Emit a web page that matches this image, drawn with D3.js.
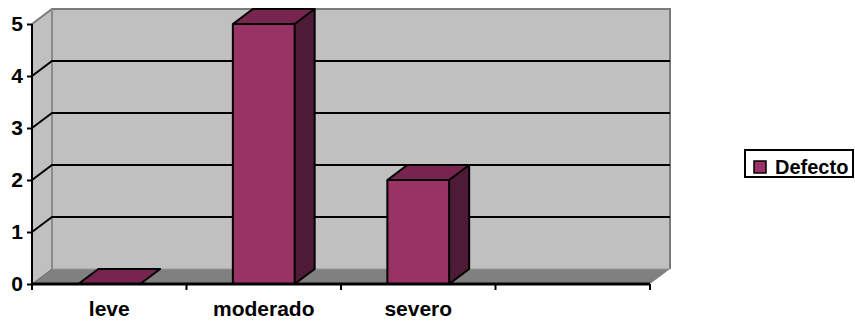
<!DOCTYPE html>
<html>
<head>
<meta charset="utf-8">
<script src="https://cdn.jsdelivr.net/npm/d3@7"></script>
<style>
  body { margin: 0; background: #fff; }
  text { font-family: "Liberation Sans", Arial, sans-serif; font-weight: bold; fill: #000; }
</style>
</head>
<body>
<div id="chart"></div>
<script>
// data
let categories = ["leve", "moderado", "severo", ""];
let values = [0, 5, 2, null];
let yTicks = [0, 1, 2, 3, 4, 5];
let seriesName = "Defecto";

let W = 855, H = 321;
// 3D depth offset
let dx = 20, dy = -15;

let x = d3.scaleBand()
    .domain(categories)
    .range([32, 650]);
let y = d3.scaleLinear()
    .domain([0, 5])
    .range([284, 24]);

let svg = d3.select("#chart").append("svg")
    .attr("width", W)
    .attr("height", H);

let pts = a => a.map(p => p.join(",")).join(" ");
let x0 = x.range()[0], x1 = x.range()[1];
let yb = y(0), yt = y(5);

// left wall
svg.append("polygon")
    .attr("points", pts([[x0, yb], [x0 + dx, yb + dy], [x0 + dx, yt + dy], [x0, yt]]))
    .attr("fill", "#c0c0c0");

// back wall
svg.append("rect")
    .attr("x", x0 + dx).attr("y", yt + dy)
    .attr("width", x1 - x0).attr("height", yb - yt)
    .attr("fill", "#c0c0c0");

// floor
svg.append("polygon")
    .attr("points", pts([[x0, yb], [x1, yb], [x1 + dx, yb + dy], [x0 + dx, yb + dy]]))
    .attr("fill", "#808080");

// wall edges
svg.append("path")
    .attr("d", "M" + x0 + "," + yt + "L" + (x0 + dx) + "," + (yt + dy) +
        "L" + (x1 + dx) + "," + (yt + dy) + "L" + (x1 + dx) + "," + (yb + dy))
    .attr("fill", "none").attr("stroke", "#7a7a7a").attr("stroke-width", 2);
svg.append("line")
    .attr("x1", x0 + dx).attr("x2", x0 + dx)
    .attr("y1", yt + dy).attr("y2", yb + dy)
    .attr("stroke", "#8a8a8a").attr("stroke-width", 2);
svg.append("line")
    .attr("x1", x0 + dx).attr("x2", x1 + dx)
    .attr("y1", yb + dy).attr("y2", yb + dy)
    .attr("stroke", "#999").attr("stroke-width", 1);
svg.append("line")
    .attr("x1", x0).attr("x2", x0 + dx)
    .attr("y1", yb).attr("y2", yb + dy)
    .attr("stroke", "#666").attr("stroke-width", 1);

// gridlines on back wall and left wall
let grid = yTicks.filter(v => v > 0 && v < 5);
svg.selectAll(".grid")
    .data(grid)
    .enter()
    .append("path")
    .attr("class", "grid")
    .attr("d", d => "M" + x0 + "," + y(d) + "L" + (x0 + dx) + "," + (y(d) + dy) +
        "L" + (x1 + dx) + "," + (y(d) + dy))
    .attr("fill", "none")
    .attr("stroke", "#000")
    .attr("stroke-width", 2);

// bars
let bw = x.bandwidth() * 0.4;
let bars = categories.map((c, i) => ({ c: c, v: values[i] })).filter(d => d.v !== null);
let g = svg.selectAll(".bar")
    .data(bars)
    .enter()
    .append("g")
    .attr("class", "bar");

g.each(function(d) {
    let gg = d3.select(this);
    let l = x(d.c) + (x.bandwidth() - bw) / 2, r = l + bw;
    let top = y(d.v), bot = y(0);
    if (d.v > 0) {
        gg.append("rect")
            .attr("x", l).attr("y", top)
            .attr("width", bw).attr("height", bot - top)
            .attr("fill", "#993366");
        gg.append("polygon")
            .attr("points", pts([[r, top], [r + dx, top + dy], [r + dx, bot + dy], [r, bot]]))
            .attr("fill", "#4f1a36");
    }
    gg.append("polygon")
        .attr("points", pts([[l, top], [l + dx, top + dy], [r + dx, top + dy], [r, top]]))
        .attr("fill", "#772550");
    // outline
    let outline = d.v > 0
        ? "M" + l + "," + bot + "L" + l + "," + top + "L" + (l + dx) + "," + (top + dy) +
          "L" + (r + dx) + "," + (top + dy) + "L" + (r + dx) + "," + (bot + dy) +
          "L" + r + "," + bot + "Z M" + l + "," + top + "L" + r + "," + top +
          "L" + (r + dx) + "," + (top + dy) + " M" + r + "," + top + "L" + r + "," + bot
        : "M" + l + "," + top + "L" + (l + dx) + "," + (top + dy) +
          "L" + (r + dx) + "," + (top + dy) + "L" + r + "," + top + "Z";
    gg.append("path")
        .attr("d", outline)
        .attr("fill", "none")
        .attr("stroke", "#000")
        .attr("stroke-width", 2)
        .attr("stroke-linejoin", "round");
});

// y axis
let yAxis = svg.append("g")
    .attr("transform", "translate(" + x0 + ",0)")
    .call(d3.axisLeft(y).tickValues(yTicks).tickSize(5).tickPadding(4).tickFormat(d3.format("d")));
yAxis.select(".domain").attr("stroke-width", 2).attr("d", "M0," + yt + "V" + (yb + 6));
yAxis.selectAll(".tick line").attr("stroke-width", 2);
yAxis.selectAll("text").style("font-size", "21px").attr("font-family", null);

// x axis
let bounds = categories.map(c => x(c)).concat([x1]);
svg.append("line")
    .attr("x1", x0).attr("x2", x1)
    .attr("y1", yb).attr("y2", yb)
    .attr("stroke", "#000").attr("stroke-width", 3);
svg.selectAll(".xtick")
    .data(bounds.slice(1))
    .enter()
    .append("line")
    .attr("x1", d => d).attr("x2", d => d)
    .attr("y1", yb).attr("y2", yb + 6)
    .attr("stroke", "#000").attr("stroke-width", 2);
svg.selectAll(".xlabel")
    .data(categories)
    .enter()
    .append("text")
    .attr("x", d => x(d) + x.bandwidth() / 2)
    .attr("y", 316)
    .attr("text-anchor", "middle")
    .style("font-size", "21px")
    .text(d => d);

// legend
let lg = svg.append("g").attr("transform", "translate(745,150)");
lg.append("rect")
    .attr("x", 0).attr("y", 0)
    .attr("width", 108).attr("height", 27)
    .attr("fill", "#fff").attr("stroke", "#000").attr("stroke-width", 2);
lg.append("rect")
    .attr("x", 9).attr("y", 11).attr("width", 12).attr("height", 12)
    .attr("fill", "#993366").attr("stroke", "#000").attr("stroke-width", 1.5);
lg.append("text")
    .attr("x", 30).attr("y", 24)
    .style("font-size", "20px")
    .text(seriesName);
</script>
</body>
</html>
